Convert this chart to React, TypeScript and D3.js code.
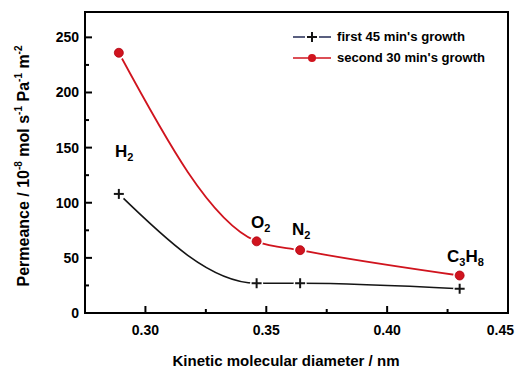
import React from "react";
import * as d3 from "d3";

const gases = ["H2", "O2", "N2", "C3H8"];
const diameters = [0.289, 0.346, 0.364, 0.43];
const firstGrowth = [108, 27, 27, 22];
const secondGrowth = [236, 65, 57, 34];
const xTicks = [0.3, 0.35, 0.4, 0.45];
const xMinorTicks = [0.325, 0.375, 0.425];
const yTicks = [0, 50, 100, 150, 200, 250];
const yMinorTicks = [25, 75, 125, 175, 225];

const W = 515;
const H = 369;
const M = { left: 85, right: 7, top: 12, bottom: 56 };
const FONT = "'Liberation Sans', Arial, sans-serif";
const RED = "#d0141e";
const BLACK = "#151515";

export default function App() {
  const x = d3.scaleLinear().domain([0.275, 0.45]).range([M.left, W - M.right]);
  const y = d3.scaleLinear().domain([0, 273]).range([H - M.bottom, M.top]);
  const line = d3
    .line<number>()
    .x((_, i) => x(diameters[i]))
    .y((d) => y(d))
    .curve(d3.curveMonotoneX);

  const labelPos: Record<string, [number, number]> = {
    H2: [115, 157],
    O2: [251, 228],
    N2: [292, 235],
    C3H8: [447, 262],
  };
  const renderLabel = (g: string) => {
    const parts = g.match(/[A-Z][a-z]?|\d+/g) || [];
    return parts.map((p, i) =>
      /\d/.test(p) ? (
        <tspan key={i} fontSize={11} dy={4}>
          {p}
        </tspan>
      ) : (
        <tspan key={i} fontSize={17} dy={i === 0 ? 0 : -4}>
          {p}
        </tspan>
      )
    );
  };

  const plus = (cx: number, cy: number, key: string) => (
    <g key={key} stroke={BLACK} strokeWidth={2}>
      <line x1={cx - 5} x2={cx + 5} y1={cy} y2={cy} />
      <line x1={cx} x2={cx} y1={cy - 5} y2={cy + 5} />
    </g>
  );

  const y0 = H - M.bottom;
  return (
    <svg
      width={W}
      height={H}
      style={{ position: "absolute", left: 0, top: 0, background: "#fff" }}
      fontFamily={FONT}
      fontWeight="bold"
    >
      {/* lines */}
      <path d={line(secondGrowth) || ""} fill="none" stroke={RED} strokeWidth={1.8} />
      <path d={line(firstGrowth) || ""} fill="none" stroke={BLACK} strokeWidth={1.6} />
      {/* gaps at markers */}
      {diameters.map((d, i) => (
        <g key={"gap" + i} fill="#fff">
          <circle cx={x(d)} cy={y(secondGrowth[i])} r={6.5} />
          <circle cx={x(d)} cy={y(firstGrowth[i])} r={6.5} />
        </g>
      ))}
      {diameters.map((d, i) => (
        <circle key={"r" + i} cx={x(d)} cy={y(secondGrowth[i])} r={4.5} fill={RED} stroke="#b00010" strokeWidth={0.8} />
      ))}
      {diameters.map((d, i) => plus(x(d), y(firstGrowth[i]), "p" + i))}

      {/* frame */}
      <rect
        x={M.left}
        y={M.top}
        width={W - M.left - M.right}
        height={H - M.top - M.bottom}
        fill="none"
        stroke="#000"
        strokeWidth={2}
      />
      {/* x ticks */}
      {xTicks.map((t, i) => (
        <g key={"xt" + t}>
          <line x1={x(t)} x2={x(t)} y1={y0} y2={y0 - 7} stroke="#000" strokeWidth={2} />
          <text
            x={i === xTicks.length - 1 ? W - 1 : x(t)}
            y={y0 + 22}
            textAnchor={i === xTicks.length - 1 ? "end" : "middle"}
            fontSize={14}
          >
            {t.toFixed(2)}
          </text>
        </g>
      ))}
      {xMinorTicks.map((t) => (
        <line key={"xm" + t} x1={x(t)} x2={x(t)} y1={y0} y2={y0 - 4} stroke="#000" strokeWidth={2} />
      ))}
      {/* y ticks */}
      {yTicks.map((t) => (
        <g key={"yt" + t}>
          <line x1={M.left} x2={M.left + 7} y1={y(t)} y2={y(t)} stroke="#000" strokeWidth={2} />
          <text x={M.left - 6} y={y(t) + 5} textAnchor="end" fontSize={14}>
            {t}
          </text>
        </g>
      ))}
      {yMinorTicks.map((t) => (
        <line key={"ym" + t} x1={M.left} x2={M.left + 4} y1={y(t)} y2={y(t)} stroke="#000" strokeWidth={2} />
      ))}

      {/* gas labels */}
      {gases.map((g) => (
        <text key={g} x={labelPos[g][0]} y={labelPos[g][1]} fill="#000">
          {renderLabel(g)}
        </text>
      ))}

      {/* legend */}
      <g>
        <line x1={293} x2={331} y1={37} y2={37} stroke="#222a55" strokeWidth={1.6} />
        <rect x={305} y={31} width={14} height={12} fill="#fff" />
        {plus(312, 37, "lp")}
        <text x={337} y={41} fontSize={12} textLength={128} lengthAdjust="spacingAndGlyphs">
          first 45 min's growth
        </text>
        <line x1={293} x2={331} y1={58} y2={58} stroke={RED} strokeWidth={1.6} />
        <circle cx={312} cy={58} r={4} fill={RED} />
        <text x={337} y={62} fontSize={12} textLength={148} lengthAdjust="spacingAndGlyphs">
          second 30 min's growth
        </text>
      </g>

      {/* axis titles */}
      <text x={286} y={366} textAnchor="middle" fontSize={15} textLength={227} lengthAdjust="spacingAndGlyphs">
        Kinetic molecular diameter / nm
      </text>
      <text transform={`translate(29, 166) rotate(-90)`} textAnchor="middle" fontSize={16}>
        Permeance / 10
        <tspan fontSize={10} dy={-7}>-8</tspan>
        <tspan dy={7}> mol s</tspan>
        <tspan fontSize={10} dy={-7}>-1</tspan>
        <tspan dy={7}> Pa</tspan>
        <tspan fontSize={10} dy={-7}>-1</tspan>
        <tspan dy={7}> m</tspan>
        <tspan fontSize={10} dy={-7}>-2</tspan>
      </text>
    </svg>
  );
}
